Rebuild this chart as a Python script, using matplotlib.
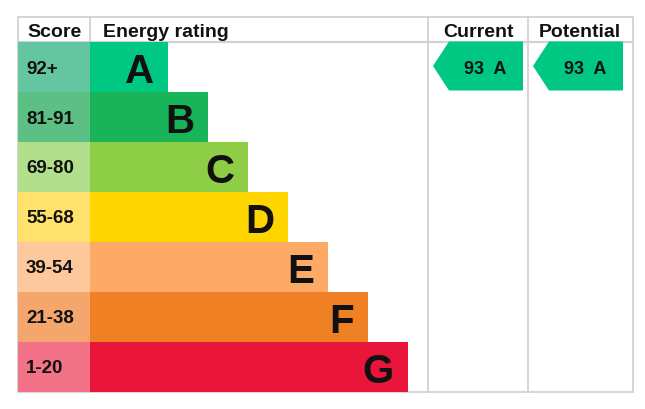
import matplotlib.pyplot as plt
from matplotlib.patches import Polygon, Rectangle

bands = ['A', 'B', 'C', 'D', 'E', 'F', 'G']
scores = ['92+', '81-91', '69-80', '55-68', '39-54', '21-38', '1-20']
bar_colors = ['#00c781', '#19b459', '#8dce46', '#ffd500', '#fcaa65', '#ef8023', '#e9153b']
score_colors = ['#64c6a0', '#5cbf84', '#b2df8b', '#ffe26b', '#fdc89b', '#f4a66c', '#f27287']
current = (93, 'A')
potential = (93, 'A')

plt.rcParams['font.family'] = ['Liberation Sans', 'DejaVu Sans']

fig = plt.figure(figsize=(6.45, 4.10), dpi=100)
ax = fig.add_axes([0, 0, 1, 1])
ax.set_xlim(0, 645)
ax.set_ylim(410, 0)
ax.axis('off')

left, top, head_h, row_h = 18, 18, 25, 50
score_w = 72
col1, col2, right = 428, 528, 633
bottom = top + head_h + row_h * len(bands)
grid = '#d2d2d2'

# frame and grid lines (under the bars)
ax.add_patch(Rectangle((left, top), right - left, bottom - top, fill=False, edgecolor=grid, lw=1.3, zorder=1))
ax.plot([left, right], [top + head_h, top + head_h], color=grid, lw=1.6, zorder=1)
for x in (left + score_w, col1, col2):
    ax.plot([x, x], [top, bottom], color=grid, lw=1.3, zorder=1)

# rows
ys = [top + head_h + row_h * i + row_h / 2 for i in range(len(bands))]
lengths = [78 + 40 * i for i in range(len(bands))]
ax.barh(ys, [score_w] * len(bands), left=left, height=row_h, color=score_colors, edgecolor='none', zorder=2)
ax.barh(ys, lengths, left=left + score_w, height=row_h, color=bar_colors, edgecolor='none', zorder=2)
for y, s, b, ln in zip(ys, scores, bands, lengths):
    ax.text(left + 8, y + 5.5, s, fontsize=13.5, fontweight='bold', ha='left', va='baseline', color='#111',
            zorder=3)
    ax.text(left + score_w + ln - 14, y + 15, b, fontsize=29, fontweight='bold', ha='right', va='baseline',
            color='#111', zorder=3)

# headers
hy = top + 19
hfont = dict(fontsize=14, fontweight='bold', va='baseline', color='#111')
ax.text(left + 9, hy, 'Score', ha='left', **hfont)
ax.text(left + score_w + 13, hy, 'Energy rating', ha='left', **hfont)
ax.text((col1 + col2) / 2, hy, 'Current', ha='center', **hfont)
ax.text((col2 + right) / 2 - 1, hy, 'Potential', ha='center', **hfont)


def arrow(x0, val):
    score, band = val
    i = bands.index(band)
    yc = ys[i] - 1
    t, b = yc - 24.5, yc + 24.5
    pts = [(x0, yc), (x0 + 16, t), (x0 + 90, t), (x0 + 90, b), (x0 + 16, b)]
    ax.add_patch(Polygon(pts, closed=True, facecolor=bar_colors[i], edgecolor='none', zorder=2))
    ax.text(x0 + 52, yc + 6.5, f'{score}  {band}', fontsize=13, fontweight='bold', ha='center',
            va='baseline', color='#111', zorder=3)


arrow(col1 + 5, current)
arrow(col2 + 5, potential)

fig.savefig('out.png', dpi=100, facecolor='white')
